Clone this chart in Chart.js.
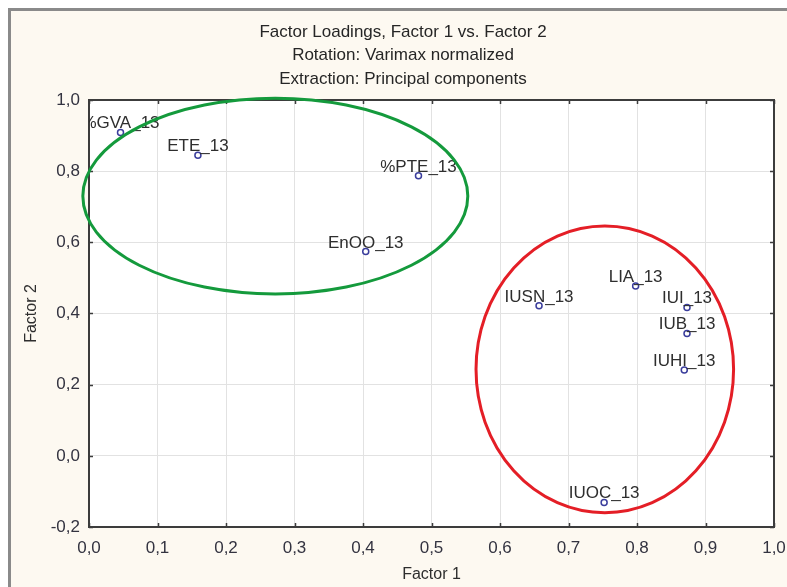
<!DOCTYPE html>
<html>
<head>
<meta charset="utf-8">
<script src="https://cdn.jsdelivr.net/npm/chart.js@4.4.1/dist/chart.umd.min.js"></script>
<style>
  html, body { margin: 0; padding: 0; background: #ffffff; }
  canvas { display: block; }
</style>
</head>
<body>
<canvas id="myChart" width="787" height="587"></canvas>
<script>
const titleLines = ['Factor Loadings, Factor 1 vs. Factor 2', 'Rotation: Varimax normalized', 'Extraction: Principal components'];
const variables = ['%GVA_13', 'ETE_13', '%PTE_13', 'EnOO_13', 'LIA_13', 'IUSN_13', 'IUI_13', 'IUB_13', 'IUHI_13', 'IUOC_13'];
const factor1 = [0.046, 0.159, 0.481, 0.404, 0.798, 0.657, 0.873, 0.873, 0.869, 0.752];
const factor2 = [0.909, 0.845, 0.787, 0.574, 0.477, 0.422, 0.417, 0.344, 0.241, -0.131];
const xTickValues = [0, 0.1, 0.2, 0.3, 0.4, 0.5, 0.6, 0.7, 0.8, 0.9, 1.0];
const yTickValues = [-0.2, 0, 0.2, 0.4, 0.6, 0.8, 1.0];

// hand-drawn group ellipses, in data units: [centre x, centre y, radius x, radius y]
const groupEllipses = [
  { c: [0.272, 0.730], r: [0.281, 0.275], color: '#149a3c' },
  { c: [0.753, 0.243], r: [0.188, 0.403], color: '#e41e26' },
];

const FONT = '"Liberation Sans", Arial, sans-serif';
const fmt = v => v.toFixed(1).replace('.', ',');

const points = factor1.map((x, i) => ({ x: x, y: factor2[i] }));

const frame = {
  id: 'frame',
  beforeDraw(chart) {
    const { ctx, width, height, chartArea: a } = chart;
    ctx.save();
    ctx.fillStyle = '#ffffff';
    ctx.fillRect(0, 0, width, height);
    ctx.fillStyle = '#fdf9f1';
    ctx.fillRect(10, 10, width, height);
    ctx.strokeStyle = '#8a8a8a';
    ctx.lineWidth = 3;
    ctx.strokeRect(9.5, 9.5, width + 20, height + 20);
    ctx.fillStyle = '#ffffff';
    ctx.fillRect(a.left, a.top, a.right - a.left, a.bottom - a.top);
    // title
    ctx.fillStyle = '#262626';
    ctx.font = '17px ' + FONT;
    ctx.textAlign = 'center';
    ctx.textBaseline = 'middle';
    titleLines.forEach((t, i) => ctx.fillText(t, 403, 32 + i * 23.5));
    ctx.restore();
  },
  afterDatasetsDraw(chart) {
    const { ctx, chartArea: a, scales: { x, y } } = chart;
    ctx.save();
    // box and inner ticks
    ctx.strokeStyle = '#3c3c3c';
    ctx.lineWidth = 2;
    ctx.strokeRect(a.left, a.top, a.right - a.left, a.bottom - a.top);
    ctx.lineWidth = 1.5;
    ctx.beginPath();
    xTickValues.forEach(v => {
      const px = Math.round(x.getPixelForValue(v)) + 0.5;
      ctx.moveTo(px, a.bottom); ctx.lineTo(px, a.bottom - 4);
      ctx.moveTo(px, a.top); ctx.lineTo(px, a.top + 4);
    });
    yTickValues.forEach(v => {
      const py = Math.round(y.getPixelForValue(v)) + 0.5;
      ctx.moveTo(a.left, py); ctx.lineTo(a.left + 4, py);
      ctx.moveTo(a.right, py); ctx.lineTo(a.right - 4, py);
    });
    ctx.stroke();

    // point labels, clipped to plot area
    ctx.beginPath();
    ctx.rect(a.left, a.top, a.right - a.left, a.bottom - a.top);
    ctx.clip();
    ctx.fillStyle = '#2e2e2e';
    ctx.font = '17px ' + FONT;
    ctx.textAlign = 'center';
    ctx.textBaseline = 'alphabetic';
    variables.forEach((name, i) => {
      ctx.fillText(name, x.getPixelForValue(factor1[i]), y.getPixelForValue(factor2[i]) - 4);
    });
    ctx.restore();
  },
  afterDraw(chart) {
    const { ctx, scales: { x, y } } = chart;
    ctx.save();
    ctx.lineWidth = 3;
    groupEllipses.forEach(e => {
      const cx = x.getPixelForValue(e.c[0]);
      const cy = y.getPixelForValue(e.c[1]);
      const rx = Math.abs(x.getPixelForValue(e.c[0] + e.r[0]) - cx);
      const ry = Math.abs(y.getPixelForValue(e.c[1] + e.r[1]) - cy);
      ctx.strokeStyle = e.color;
      ctx.beginPath();
      ctx.ellipse(cx, cy, rx, ry, 0, 0, Math.PI * 2);
      ctx.stroke();
    });
    ctx.restore();
  },
};

var ctx = document.getElementById('myChart').getContext('2d');
var chart = new Chart(ctx, {
  type: 'scatter',
  data: {
    datasets: [{
      label: 'Factor loadings',
      data: points,
      pointStyle: 'circle',
      pointRadius: 3,
      pointHoverRadius: 3,
      borderColor: '#3a3d9c',
      backgroundColor: '#ffffff',
      borderWidth: 1.5,
    }],
  },
  options: {
    responsive: false,
    animation: false,
    devicePixelRatio: 1,
    layout: { padding: { top: 100, left: 0, right: 13, bottom: 0 } },
    plugins: {
      legend: { display: false },
      tooltip: { enabled: false },
      title: { display: false },
    },
    scales: {
      x: {
        type: 'linear',
        min: 0,
        max: 1,
        afterBuildTicks: s => { s.ticks = xTickValues.map(v => ({ value: v })); },
        afterFit: s => { s.height = 60; s.paddingLeft = 0; s.paddingRight = 0; },
        grid: { color: '#e2e2e2', lineWidth: 1, drawTicks: false },
        border: { display: false },
        ticks: {
          padding: 11,
          color: '#333340',
          font: { family: FONT, size: 17 },
          callback: v => fmt(v),
          maxRotation: 0,
        },
        title: {
          display: true,
          text: 'Factor 1',
          color: '#2e2e2e',
          font: { family: FONT, size: 16 },
          padding: { top: 0, bottom: 2.4 },
        },
      },
      y: {
        type: 'linear',
        min: -0.2,
        max: 1,
        afterBuildTicks: s => { s.ticks = yTickValues.map(v => ({ value: v })); },
        afterFit: s => { s.width = 89; },
        grid: { color: '#e2e2e2', lineWidth: 1, drawTicks: false },
        border: { display: false },
        ticks: {
          padding: 9,
          color: '#333340',
          font: { family: FONT, size: 17 },
          callback: v => fmt(v),
        },
        title: {
          display: true,
          text: 'Factor 2',
          color: '#2e2e2e',
          font: { family: FONT, size: 16 },
          padding: { top: 21.5, bottom: 0 },
        },
      },
    },
  },
  plugins: [frame],
});
</script>
</body>
</html>
